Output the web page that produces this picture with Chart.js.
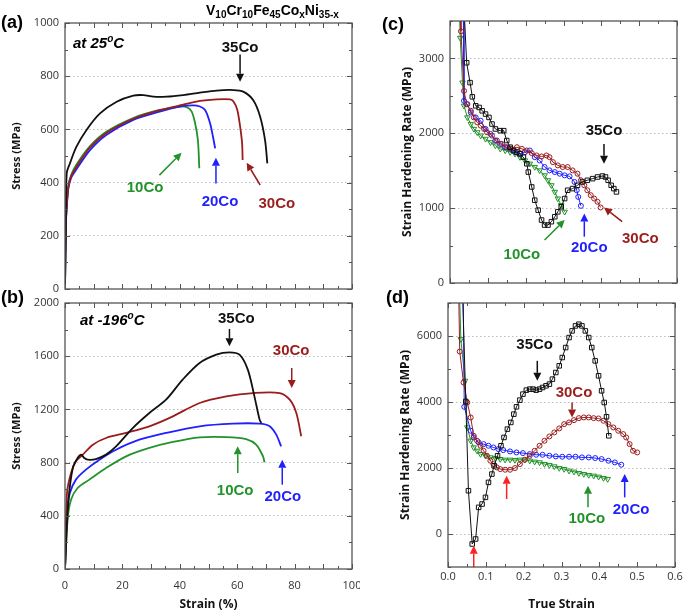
<!DOCTYPE html>
<html>
<head>
<meta charset="utf-8">
<script src="https://cdn.jsdelivr.net/npm/chart.js@4.4.0/dist/chart.umd.min.js"></script>
<style>
  body { margin: 0; background: #fff; }
  #fig { position: relative; width: 685px; height: 612px; background: #fff; font-family: "Liberation Sans", Arial, sans-serif; }
  canvas { position: absolute; }
  .lbl { position: absolute; font-weight: bold; color: #000; white-space: nowrap; line-height: 20px; }
  .lbl sub { font-size: 10px; vertical-align: -3px; line-height: 0; }
  .lbl sup { font-size: 10px; vertical-align: 6px; line-height: 0; }
</style>
</head>
<body>
<div id="fig">
  <canvas id="chartA" width="360" height="295" style="left:0;top:0"></canvas>
  <canvas id="chartB" width="360" height="317" style="left:0;top:295px"></canvas>
  <canvas id="chartC" width="325" height="295" style="left:360px;top:0"></canvas>
  <canvas id="chartD" width="325" height="317" style="left:360px;top:295px"></canvas>

  <div class="lbl" style="left:1px;top:12px;font-size:18px">(a)</div>
  <div class="lbl" style="left:1px;top:287px;font-size:18px">(b)</div>
  <div class="lbl" style="left:382px;top:14px;font-size:18px">(c)</div>
  <div class="lbl" style="left:386px;top:287px;font-size:18px">(d)</div>
  <div class="lbl" style="left:206px;top:0;font-size:14px">V<sub>10</sub>Cr<sub>10</sub>Fe<sub>45</sub>Co<sub>x</sub>Ni<sub>35-x</sub></div>
  <div class="lbl" style="left:73px;top:33px;font-size:15px;font-style:italic">at 25<sup>o</sup>C</div>
  <div class="lbl" style="left:80px;top:310px;font-size:15px;font-style:italic">at -196<sup>o</sup>C</div>
</div>

<script>
// colours of the four alloys
const BLACK = '#111111', RED = '#9a1c1c', BLUE = '#1f1fff', GREEN = '#22922a', ARROW_RED = '#ff2020';

// tick labels
const strainTicks = [0, 20, 40, 60, 80, 100];
const trueStrainTicks = [0, 0.1, 0.2, 0.3, 0.4, 0.5, 0.6];
const stressTicksA = [0, 200, 400, 600, 800, 1000];
const stressTicksB = [0, 400, 800, 1200, 1600, 2000];
const rateTicksC = [0, 1000, 2000, 3000];
const rateTicksD = [0, 2000, 4000, 6000];

// (a) stress-strain at 25 C  [strain %, stress MPa]
const rt10Co = [[0,0],[0.3,250],[0.7,330],[1.2,390],[2.2,430],[4,468],[8.7,537],[14.5,592],[23.8,643],[33,673],[40,686],[42.4,684],[44.1,668],[45.3,625],[46.3,560],[46.8,454]];
const rt20Co = [[0,0],[0.3,240],[0.7,320],[1.2,380],[2.2,420],[4,450],[8.7,522],[14.5,580],[23.8,636],[33,667],[40,686],[44.7,690],[47,686],[48.8,673],[50.5,625],[51.7,565],[52.3,529]];
const rt30Co = [[0,0],[0.3,250],[0.7,330],[1.2,385],[2.2,425],[4,460],[8.7,532],[14.5,587],[23.8,640],[33,672],[41.2,693],[47,707],[52.8,713],[57.5,713],[58.7,705],[60,675],[61,612],[61.7,548],[61.9,485]];
const rt35Co = [[0,0],[0.3,250],[0.6,435],[1.7,472],[4,535],[7.5,598],[12.2,660],[18,704],[23.8,727],[27.3,729],[30.8,723],[35.4,723],[41.2,729],[47,738],[52.8,746],[58.7,748],[62.1,742],[65.6,710],[68,648],[69.7,560],[70.5,472]];

// (b) stress-strain at -196 C
const lt10Co = [[0,0],[0.9,371],[2.1,521],[4.4,609],[8.5,672],[14.3,759],[21.3,847],[29.4,910],[37.6,955],[46.9,990],[56.2,992],[63.1,977],[66.6,935],[69,847],[69.5,802]];
const lt20Co = [[0,0],[0.7,421],[1.7,571],[3.8,672],[7.3,747],[12,822],[17.8,897],[25.9,972],[35.2,1023],[46.9,1073],[58.5,1093],[67.8,1093],[71.3,1073],[73.6,1010],[75.3,922]];
const lt30Co = [[0,0],[0.7,571],[2.1,722],[3.8,810],[6.2,860],[9.7,935],[14.3,985],[21.3,1023],[29.4,1073],[37.6,1148],[46.9,1248],[56.2,1298],[65.5,1323],[74.8,1323],[78.3,1273],[80.6,1173],[82.3,998]];
const lt35Co = [[0,0],[0.9,421],[1.7,622],[2.9,772],[4.4,835],[5.6,860],[6.7,835],[7.9,822],[10.8,827],[14.3,860],[17.8,922],[23.6,1060],[29.4,1173],[35.2,1273],[41,1424],[46.9,1549],[52.7,1612],[57.3,1629],[60.8,1612],[63.7,1499],[66,1298],[67.8,1123],[68.4,1098]];

// (c) strain hardening rate at 25 C  [true strain, MPa]
const hr10Co = [[0.024,3800],[0.027,3274],[0.033,2677],[0.037,2367],[0.046,2212],[0.055,2124],[0.063,2058],[0.072,2013],[0.081,1969],[0.094,1925],[0.107,1880],[0.12,1836],[0.133,1792],[0.146,1770],[0.159,1748],[0.172,1726],[0.185,1681],[0.198,1637],[0.211,1593],[0.224,1549],[0.237,1504],[0.25,1438],[0.259,1372],[0.268,1305],[0.277,1217],[0.285,1128],[0.294,1040],[0.303,951]];
const hr20Co = [[0.035,3800],[0.037,2434],[0.046,2389],[0.055,2279],[0.068,2212],[0.081,2168],[0.094,2058],[0.107,1991],[0.12,1903],[0.133,1858],[0.146,1814],[0.159,1792],[0.172,1748],[0.185,1726],[0.198,1748],[0.211,1770],[0.224,1681],[0.237,1637],[0.25,1549],[0.263,1504],[0.277,1482],[0.29,1460],[0.303,1438],[0.316,1425],[0.329,1350],[0.335,1239],[0.339,1150],[0.346,1031]];
const hr30Co = [[0.027,3800],[0.029,3363],[0.037,2566],[0.044,2389],[0.055,2301],[0.063,2212],[0.072,2146],[0.081,2102],[0.09,2058],[0.098,2013],[0.111,1969],[0.124,1903],[0.137,1858],[0.15,1814],[0.163,1792],[0.177,1814],[0.19,1792],[0.203,1770],[0.216,1735],[0.229,1704],[0.242,1690],[0.255,1704],[0.263,1681],[0.272,1615],[0.285,1571],[0.298,1549],[0.311,1549],[0.324,1504],[0.337,1460],[0.346,1372],[0.355,1305],[0.363,1239],[0.372,1173],[0.381,1128],[0.39,1084],[0.398,1009]];
const hr35Co = [[0.036,3800],[0.044,2942],[0.053,2677],[0.059,2487],[0.068,2367],[0.077,2345],[0.085,2300],[0.094,2257],[0.103,2212],[0.111,2124],[0.12,2058],[0.133,2035],[0.142,2035],[0.15,1903],[0.159,1814],[0.168,1770],[0.177,1748],[0.185,1726],[0.194,1681],[0.203,1593],[0.207,1482],[0.216,1283],[0.224,1106],[0.233,973],[0.242,841],[0.25,774],[0.259,774],[0.268,819],[0.277,885],[0.285,951],[0.294,1018],[0.303,1128],[0.311,1239],[0.324,1261],[0.337,1305],[0.35,1350],[0.363,1372],[0.377,1394],[0.39,1416],[0.403,1429],[0.411,1416],[0.418,1372],[0.426,1305],[0.433,1261],[0.44,1217]];

// (d) strain hardening rate at -196 C
const hl10Co = [[0.03,7500],[0.034,5902],[0.045,4641],[0.051,3229],[0.06,2825],[0.068,2623],[0.077,2522],[0.086,2422],[0.099,2371],[0.112,2321],[0.125,2301],[0.138,2270],[0.151,2250],[0.164,2250],[0.177,2240],[0.19,2250],[0.203,2250],[0.216,2220],[0.229,2190],[0.242,2169],[0.255,2119],[0.268,2089],[0.281,2048],[0.294,1998],[0.307,1967],[0.32,1917],[0.333,1887],[0.346,1846],[0.359,1816],[0.372,1786],[0.385,1766],[0.398,1735],[0.411,1695],[0.422,1665]];
const hl20Co = [[0.04,7500],[0.043,3854],[0.06,3128],[0.068,2926],[0.081,2775],[0.094,2724],[0.107,2674],[0.12,2623],[0.133,2573],[0.146,2543],[0.164,2502],[0.181,2472],[0.198,2452],[0.216,2422],[0.233,2401],[0.25,2401],[0.268,2371],[0.285,2351],[0.302,2341],[0.32,2341],[0.337,2341],[0.354,2321],[0.372,2321],[0.389,2301],[0.406,2270],[0.424,2220],[0.441,2169],[0.458,2099]];
const hl30Co = [[0.028,7500],[0.031,5529],[0.041,4591],[0.051,3985],[0.06,3531],[0.068,2976],[0.077,2825],[0.086,2674],[0.094,2522],[0.103,2371],[0.112,2220],[0.12,2119],[0.129,2018],[0.138,1967],[0.151,1947],[0.164,1947],[0.177,1998],[0.19,2119],[0.203,2250],[0.216,2371],[0.229,2522],[0.242,2674],[0.255,2825],[0.268,2956],[0.281,3077],[0.294,3199],[0.307,3330],[0.32,3380],[0.333,3451],[0.346,3511],[0.359,3532],[0.372,3532],[0.385,3511],[0.398,3501],[0.411,3431],[0.424,3330],[0.437,3229],[0.45,3128],[0.463,3027],[0.471,2926],[0.48,2724],[0.489,2522],[0.5,2472]];
const hl35Co = [[0.038,7500],[0.047,4016],[0.054,1312],[0.064,-303],[0.073,-151],[0.081,807],[0.09,908],[0.099,1110],[0.107,1564],[0.116,1816],[0.122,2068],[0.131,2371],[0.14,2674],[0.148,2926],[0.157,3178],[0.166,3380],[0.174,3632],[0.181,3854],[0.19,4056],[0.198,4238],[0.207,4359],[0.216,4389],[0.225,4389],[0.233,4359],[0.242,4389],[0.25,4440],[0.259,4490],[0.268,4541],[0.276,4692],[0.285,4894],[0.294,5096],[0.302,5348],[0.311,5650],[0.32,5953],[0.328,6155],[0.337,6306],[0.346,6357],[0.354,6306],[0.363,6155],[0.372,5953],[0.38,5650],[0.389,5247],[0.398,4793],[0.406,4339],[0.413,3985],[0.419,3552],[0.425,2976]];

// labels and arrows, in data units of each panel
const notesA = {
  labels: [['35Co', 61, 905, BLACK], ['10Co', 27.9, 382, GREEN], ['20Co', 54, 328, BLUE], ['30Co', 73.8, 320, RED]],
  arrows: [[61, 882, 61, 779, BLACK], [32.9, 428, 40.6, 512, GREEN], [52.6, 397, 52.6, 493, BLUE], [68, 391, 63.3, 475, RED]]
};
const notesB = {
  labels: [['35Co', 59.7, 1880, BLACK], ['30Co', 78.8, 1637, RED], ['10Co', 59.3, 591, GREEN], ['20Co', 75.9, 541, BLUE]],
  arrows: [[57.3, 1805, 57.3, 1674, BLACK], [79, 1511, 79, 1361, RED], [60.2, 722, 60.2, 922, GREEN], [75.7, 634, 75.7, 822, BLUE]]
};
const notesC = {
  labels: [['35Co', 0.407, 2027, BLACK], ['10Co', 0.19, 376, GREEN], ['20Co', 0.368, 465, BLUE], ['30Co', 0.503, 584, RED]],
  arrows: [[0.407, 1858, 0.407, 1593, BLACK], [0.25, 575, 0.303, 841, GREEN], [0.355, 619, 0.355, 929, BLUE], [0.455, 819, 0.407, 1009, RED]]
};
const notesD = {
  labels: [['35Co', 0.229, 5731, BLACK], ['30Co', 0.333, 4288, RED], ['10Co', 0.367, 454, GREEN], ['20Co', 0.484, 726, BLUE]],
  arrows: [[0.236, 5247, 0.236, 4641, BLACK], [0.328, 3985, 0.328, 3531, RED], [0.37, 807, 0.37, 1463, GREEN], [0.467, 1110, 0.467, 1816, BLUE],
           [0.155, 1059, 0.155, 1766, ARROW_RED], [0.068, -1009, 0.068, -353, ARROW_RED]]
};

const toXY = arr => arr.map(p => ({ x: p[0], y: p[1] }));

// frame with inward ticks on all four sides
const frameTicks = {
  id: 'frameTicks',
  afterDraw(chart, args, opts) {
    const { ctx, chartArea: a, scales: { x, y } } = chart;
    ctx.save();
    ctx.strokeStyle = '#555';
    ctx.lineWidth = 1;
    ctx.beginPath();
    const walk = (scale, minor, major, fn) => {
      const n0 = Math.ceil(scale.min / minor - 1e-6), n1 = Math.floor(scale.max / minor + 1e-6);
      for (let n = n0; n <= n1; n++) {
        const r = n * minor / major;
        const len = Math.abs(r - Math.round(r)) < 1e-6 ? 5 : 3;
        fn(Math.round(scale.getPixelForValue(n * minor)) + 0.5, len);
      }
    };
    walk(x, opts.xMinor, opts.xMajor, (px, len) => {
      ctx.moveTo(px, a.bottom); ctx.lineTo(px, a.bottom - len);
      ctx.moveTo(px, a.top); ctx.lineTo(px, a.top + len);
    });
    walk(y, opts.yMinor, opts.yMajor, (py, len) => {
      ctx.moveTo(a.left, py); ctx.lineTo(a.left + len, py);
      ctx.moveTo(a.right, py); ctx.lineTo(a.right - len, py);
    });
    ctx.stroke();
    ctx.lineWidth = 1.3;
    ctx.strokeRect(a.left, a.top, a.right - a.left, a.bottom - a.top);
    ctx.restore();
  }
};

// curve labels with arrows
const curveNotes = {
  id: 'curveNotes',
  afterDatasetsDraw(chart, args, opts) {
    const { ctx, scales: { x, y } } = chart;
    ctx.save();
    (opts.arrows || []).forEach(([x1, y1, x2, y2, c]) => {
      const p1x = x.getPixelForValue(x1), p1y = y.getPixelForValue(y1);
      const p2x = x.getPixelForValue(x2), p2y = y.getPixelForValue(y2);
      const ang = Math.atan2(p2y - p1y, p2x - p1x);
      const hl = 8, hw = 4;
      const bx = p2x - hl * Math.cos(ang), by = p2y - hl * Math.sin(ang);
      ctx.strokeStyle = c; ctx.fillStyle = c; ctx.lineWidth = 1.5;
      ctx.beginPath(); ctx.moveTo(p1x, p1y); ctx.lineTo(bx, by); ctx.stroke();
      ctx.beginPath();
      ctx.moveTo(p2x, p2y);
      ctx.lineTo(bx + hw * Math.sin(ang), by - hw * Math.cos(ang));
      ctx.lineTo(bx - hw * Math.sin(ang), by + hw * Math.cos(ang));
      ctx.closePath(); ctx.fill();
    });
    ctx.font = 'bold 15px "Liberation Sans", Arial, sans-serif';
    ctx.textAlign = 'center';
    ctx.textBaseline = 'middle';
    (opts.labels || []).forEach(([t, lx, ly, c]) => {
      ctx.fillStyle = c;
      ctx.fillText(t, x.getPixelForValue(lx), y.getPixelForValue(ly));
    });
    ctx.restore();
  }
};

const tickFont = { family: '"Open Sans", "Liberation Sans", sans-serif', size: 11 };
const titleFont = { family: '"Open Sans", "Liberation Sans", sans-serif', size: 12, weight: 'bold' };

function lineSet(data, color) {
  return { data: toXY(data), borderColor: color, borderWidth: 1.8, pointRadius: 0, showLine: true, tension: 0.3, fill: false };
}
function markSet(data, color, style, radius, rotation) {
  return { data: toXY(data), borderColor: color, borderWidth: 1, backgroundColor: 'rgba(255,255,255,0)',
    pointBorderColor: color, pointStyle: style, pointRadius: radius, pointRotation: rotation || 0,
    pointBorderWidth: 1, showLine: true, tension: 0, fill: false };
}

const setTicks = vals => s => { s.ticks = vals.map(v => ({ value: v })); };

function makePanel(id, p) {
  return new Chart(document.getElementById(id), {
    type: 'scatter',
    data: { datasets: p.datasets },
    options: {
      responsive: false,
      animation: false,
      devicePixelRatio: 1,
      layout: { padding: p.padding },
      plugins: {
        legend: { display: false },
        tooltip: { enabled: false },
        frameTicks: p.ticks,
        curveNotes: p.notes
      },
      scales: {
        x: {
          type: 'linear', min: p.xMin, max: p.xMax,
          afterBuildTicks: setTicks(p.xTicks),
          afterFit: s => { s.height = p.xHeight; s.paddingLeft = 0; s.paddingRight = 0; },
          grid: { display: false, drawTicks: false },
          border: { display: false },
          ticks: { display: p.xLabels, font: tickFont, color: '#333', padding: p.xPad || 6, maxRotation: 0, autoSkip: false,
            callback: v => p.xFmt ? p.xFmt(v) : String(v) },
          title: { display: !!p.xTitle, text: p.xTitle, font: titleFont, color: '#111', padding: { top: 0, bottom: 0 } }
        },
        y: {
          type: 'linear', min: p.yMin, max: p.yMax,
          afterBuildTicks: setTicks(p.yTicks),
          afterFit: s => { s.width = p.yWidth; s.paddingTop = 0; s.paddingBottom = 0; },
          grid: {
            drawTicks: false,
            color: c => (c.tick && c.tick.value > p.yMin && c.tick.value < p.yMax) ? '#bdbdbd' : 'rgba(0,0,0,0)',
            lineWidth: 1
          },
          border: { display: false, dash: [1.5, 2.5] },
          ticks: { font: tickFont, color: '#333', padding: 6, autoSkip: false, callback: v => String(v) },
          title: { display: true, text: p.yTitle, font: p.yTitleFont || { ...titleFont, size: 11 }, color: '#111', padding: { top: 0, bottom: 0 } }
        }
      }
    },
    plugins: [frameTicks, curveNotes]
  });
}

makePanel('chartA', {
  datasets: [lineSet(rt35Co, BLACK), lineSet(rt30Co, RED), lineSet(rt20Co, BLUE), lineSet(rt10Co, GREEN)],
  padding: { top: 23, right: 8, left: 10, bottom: 0 },
  xMin: 0, xMax: 100, xTicks: strainTicks, xLabels: false, xHeight: 6,
  yMin: 0, yMax: 1000, yTicks: stressTicksA, yWidth: 55, yTitle: 'Stress (MPa)',
  ticks: { xMinor: 5, xMajor: 10, yMinor: 100, yMajor: 200 },
  notes: notesA
});

makePanel('chartB', {
  datasets: [lineSet(lt35Co, BLACK), lineSet(lt30Co, RED), lineSet(lt20Co, BLUE), lineSet(lt10Co, GREEN)],
  padding: { top: 8, right: 8, left: 10, bottom: 0 },
  xMin: 0, xMax: 100, xTicks: strainTicks, xLabels: true, xHeight: 43, xPad: 10, xTitle: 'Strain (%)',
  yMin: 0, yMax: 2000, yTicks: stressTicksB, yWidth: 55, yTitle: 'Stress (MPa)',
  ticks: { xMinor: 5, xMajor: 10, yMinor: 200, yMajor: 400 },
  notes: notesB
});

makePanel('chartC', {
  datasets: [markSet(hr35Co, BLACK, 'rect', 3.2), markSet(hr30Co, RED, 'circle', 2.5), markSet(hr20Co, BLUE, 'circle', 2.5), markSet(hr10Co, GREEN, 'triangle', 3.2, 180)],
  padding: { top: 21, right: 8, left: 40, bottom: 0 },
  xMin: 0, xMax: 0.6, xTicks: trueStrainTicks, xLabels: false, xHeight: 12,
  yMin: 0, yMax: 3500, yTicks: rateTicksC, yWidth: 50, yTitle: 'Strain Hardening Rate (MPa)',
  yTitleFont: titleFont,
  ticks: { xMinor: 0.05, xMajor: 0.1, yMinor: 500, yMajor: 1000 },
  notes: notesC
});

makePanel('chartD', {
  datasets: [markSet(hl35Co, BLACK, 'rect', 3.2), markSet(hl30Co, RED, 'circle', 2.5), markSet(hl20Co, BLUE, 'circle', 2.5), markSet(hl10Co, GREEN, 'triangle', 3.2, 180)],
  padding: { top: 8, right: 10, left: 38, bottom: 0 },
  xMin: 0, xMax: 0.6, xTicks: trueStrainTicks, xLabels: true, xHeight: 45, xPad: 3, xTitle: 'True Strain',
  xFmt: v => v.toFixed(1),
  yMin: -1000, yMax: 7000, yTicks: rateTicksD, yWidth: 50, yTitle: 'Strain Hardening Rate (MPa)',
  yTitleFont: titleFont,
  ticks: { xMinor: 0.05, xMajor: 0.1, yMinor: 1000, yMajor: 2000 },
  notes: notesD
});
</script>
</body>
</html>
